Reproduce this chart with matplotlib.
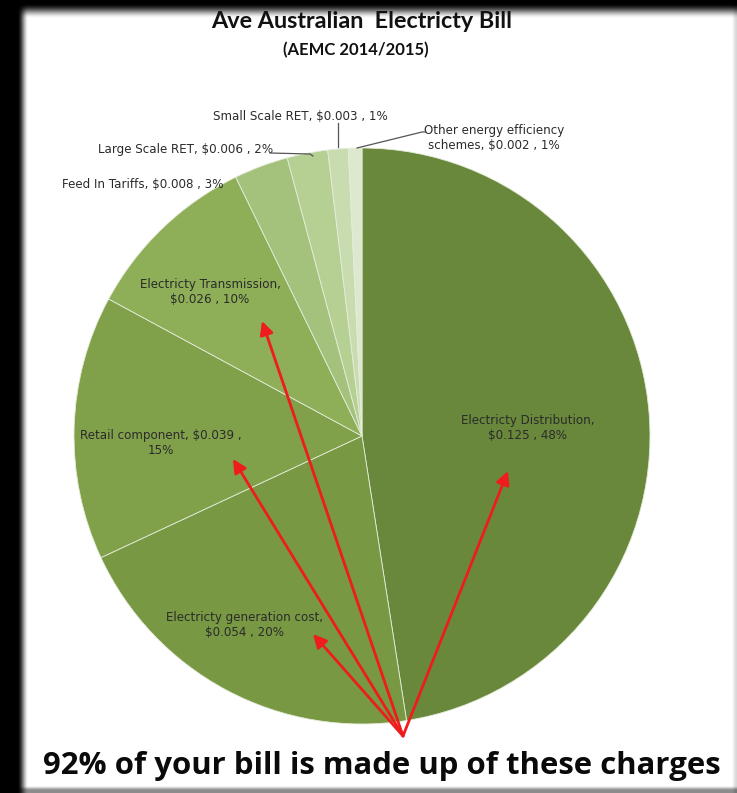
import numpy as np
import matplotlib.pyplot as plt

# Average Australian electricity bill components (AEMC 2014/2015), $ per kWh
components = [
    "Electricty Distribution",
    "Electricty generation cost",
    "Retail component",
    "Electricty Transmission",
    "Feed In Tariffs",
    "Large Scale RET",
    "Small Scale RET",
    "Other energy efficiency schemes",
]
cost = [0.125, 0.054, 0.039, 0.026, 0.008, 0.006, 0.003, 0.002]
share = [48, 20, 15, 10, 3, 2, 1, 1]
colors = ["#6a883b", "#789843", "#81a04a", "#8eae57",
          "#a4c27b", "#b6d094", "#c9dcb0", "#dde9cf"]

title = "Ave Australian  Electricty Bill"
subtitle = "(AEMC 2014/2015)"
footer = "92% of your bill is made up of these charges"

W, H = 737, 793
fig = plt.figure(figsize=(W / 100, H / 100), dpi=100)
ax = fig.add_axes([0, 0, 1, 1])


def px(x, y):
    # pixel position measured from the top-left corner -> data coords
    return x, H - y


def smooth(t):
    t = np.clip(t, 0, 1)
    return t * t * (3 - 2 * t)


# black frame with a soft-edged white panel
xs = np.arange(W)[None, :]
ys = np.arange(H)[:, None]
mask = smooth((xs - 17) / 11) * smooth((ys - 3) / 15)
mask = mask * (1 - 0.45 * smooth((ys - 785) / 5)) * (1 - 0.15 * smooth((xs - 731) / 5))
bg = np.repeat(mask[:, :, None], 3, axis=2)
ax.imshow(bg, extent=(0, W, 0, H), origin="upper", zorder=0, interpolation="bilinear")

# the pie, clockwise from twelve o'clock
cx, cy = px(362, 436)
ax.pie(cost, colors=colors, startangle=90, counterclock=False,
       center=(cx, cy), radius=288, frame=True,
       wedgeprops=dict(edgecolor="#e4ecda", linewidth=0.6))

lab_font = dict(family="Liberation Sans Narrow", fontsize=8.6, color="#2b2b2b")


def label(i, split):
    name, val = components[i], f"${cost[i]:.3f} , {share[i]}%"
    if split == "name":
        return f"{name},\n{val}"
    if split == "pct":
        return f"{name}, ${cost[i]:.3f} ,\n{share[i]}%"
    return f"{name}, {val}"


# labels inside the wedges
ax.text(*px(528, 428), label(0, "name"), ha="center", va="center",
        linespacing=1.25, **lab_font)
ax.text(*px(245, 625), label(1, "name"), ha="center", va="center",
        linespacing=1.25, **lab_font)
ax.text(*px(161, 443), label(2, "pct"), ha="center", va="center",
        linespacing=1.25, **lab_font)
ax.text(*px(210, 292), label(3, "name"), ha="center", va="center",
        linespacing=1.25, **lab_font)

# labels outside the pie, with leader lines
ax.text(*px(143, 184), label(4, "one"), ha="center", va="center", **lab_font)
ax.text(*px(186, 150), label(5, "one"), ha="center", va="center", **lab_font)
ax.text(*px(300, 116), label(6, "one"), ha="center", va="center", **lab_font)
ax.text(*px(494, 138), "Other energy efficiency\nschemes, "
        f"${cost[7]:.3f} , {share[7]}%", ha="center", va="center",
        linespacing=1.25, **lab_font)

lead = dict(color="#555555", lw=0.9, zorder=3)
ax.plot(*zip(px(270, 153), px(310, 154), px(313, 156)), **lead)
ax.plot(*zip(px(338, 123), px(338, 147)), **lead)
ax.plot(*zip(px(357, 148), px(422, 132), px(426, 132)), **lead)

# red arrows pointing at the four big charges
base = px(403, 736)
tips = [px(508, 471), px(313, 634), px(233, 459), px(262, 321)]
for tip in tips:
    ax.annotate("", xy=tip, xytext=base,
                arrowprops=dict(arrowstyle="-|>", color="#ee1c1c", lw=2,
                                mutation_scale=20, shrinkA=0, shrinkB=0),
                zorder=4)

ax.text(*px(362, 22), title, ha="center", va="center", family="Lato",
        fontweight="bold", fontsize=16.8, color="#111111")
ax.text(*px(356, 50), subtitle, ha="center", va="center", family="Lato",
        fontweight="bold", fontsize=12, color="#111111")
ax.text(*px(382, 766), footer, ha="center", va="center", family="Open Sans",
        fontweight="bold", fontsize=22.4, color="#0a0a0a")

ax.set_xlim(0, W)
ax.set_ylim(0, H)
ax.set_aspect("auto")
ax.axis("off")

fig.savefig("out.png", dpi=100, facecolor="black")
